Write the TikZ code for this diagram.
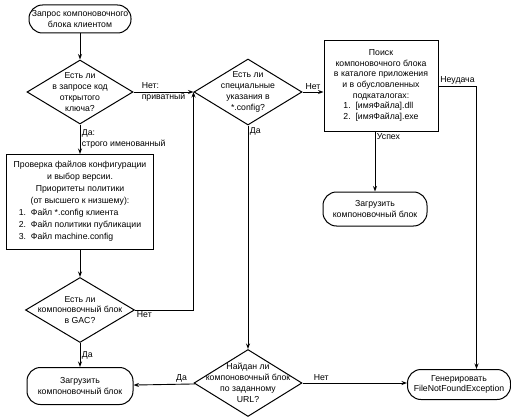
\documentclass[tikz,border=0pt]{standalone}
\usepackage{fontspec}
\setmainfont{Liberation Sans}
\usepackage{tikz}
\usetikzlibrary{positioning,shapes,arrows.meta}
\pgfkeys{tikz/myterm/.style={draw,line width=1pt,rectangle,rounded corners=13.5pt,align=center,inner sep=1pt}}
\pgfkeys{tikz/mydecide/.style={draw,line width=1pt,diamond,align=center,inner sep=-20pt}}
\pgfkeys{tikz/mybox/.style={draw,line width=1pt,rectangle,align=center,inner sep=2pt}}
\pgfkeys{tikz/mylabel/.style={inner sep=1.5pt,align=left}}
\begin{document}
\begin{tikzpicture}[x=1pt,y=-1pt,on grid,line width=0.9pt,>={Stealth[length=5.5pt,width=4pt]},
  every node/.style={font=\fontsize{8.7}{10.8}\selectfont}]
  \useasboundingbox (0,0) rectangle (511,417);
  \node[myterm,minimum width=102pt,minimum height=28pt] (n0) at (80,19) {Запрос компоновочного\\блока клиентом};
  \node[mydecide,minimum width=106pt,minimum height=64pt,below=73pt of n0] (n1) {Есть ли\\в запросе код\\открытого\\ключа?};
  \node[mybox,minimum width=147pt,minimum height=95pt,below=110pt of n1,font=\fontsize{8.7}{12}\selectfont] (n2)
    {Проверка файлов конфигурации\\и выбор версии.\\Приоритеты политики\\(от высшего к низшему):\\
     \begin{tabular}{@{}l@{}}1.~~Файл *.config клиента\\2.~~Файл политики публикации\\3.~~Файл machine.config\end{tabular}};
  \node[mydecide,minimum width=109pt,minimum height=65pt,below=108pt of n2] (n3) {Есть ли\\компоновочный блок\\в GAC?};
  \node[myterm,minimum width=106pt,minimum height=37pt,below=76pt of n3] (n4) {Загрузить\\компоновочный блок};
  \node[mydecide,minimum width=108pt,minimum height=66pt,right=168pt of n1] (n5) {Есть ли\\специальные\\указания в\\*.config?};
  \node[mydecide,minimum width=108pt,minimum height=67pt,below=291pt of n5] (n6) {Найдан ли\\компоновочный блок\\по заданному\\URL?};
  \node[mybox,minimum width=114pt,minimum height=91pt,right=133pt of n5,yshift=6pt] (n7)
    {Поиск\\компоновочного блока\\в каталоге приложения\\и в обусловленных\\подкаталогах:\\
     \begin{tabular}{@{}l@{}}1.~~[имяФайла].dll\\2.~~[имяФайла].exe\end{tabular}};
  \node[myterm,minimum width=104pt,minimum height=34pt,below=123pt of n7,xshift=-6pt] (n8) {Загрузить\\компоновочный блок};
  \node[myterm,minimum width=103pt,minimum height=30pt,right=211pt of n6,yshift=-1.5pt] (n9) {Генерировать\\FileNotFoundException};
  \coordinate (c0) at ([xshift=38pt]n7.east);

  \draw[->] (n0) -- (n1);
  \draw[->] (n1) -- node[mylabel,right] {Да:\\строго именованный} (n2);
  \draw[->] (n1) -- node[mylabel] {Нет:\\приватный} (n5);
  \draw[->] (n2) -- (n3);
  \draw[->] (n3) -- node[mylabel,right] {Да} (n4);
  \draw[->] (n3.east) -| node[mylabel,below right,pos=0] {Нет} (n5.west);
  \draw[->] (n5) -- node[mylabel,above] {Нет} (n5 -| n7.west);
  \draw[->] (n5) -- node[mylabel,below right,pos=0] {Да} (n6);
  \draw[->] (n8 |- n7.south) -- node[mylabel,below right,pos=0] {Успех} (n8);
  \draw[->] (n7.east) -- node[mylabel,above] {Неудача} (c0) -- (c0 |- n9.north);
  \draw[->] (n6) -- node[mylabel,above,pos=0.22] {Да} (n4);
  \draw[->] (n6) -- node[mylabel,above,pos=0.18] {Нет} (n6 -| n9.west);
\end{tikzpicture}
\end{document}
